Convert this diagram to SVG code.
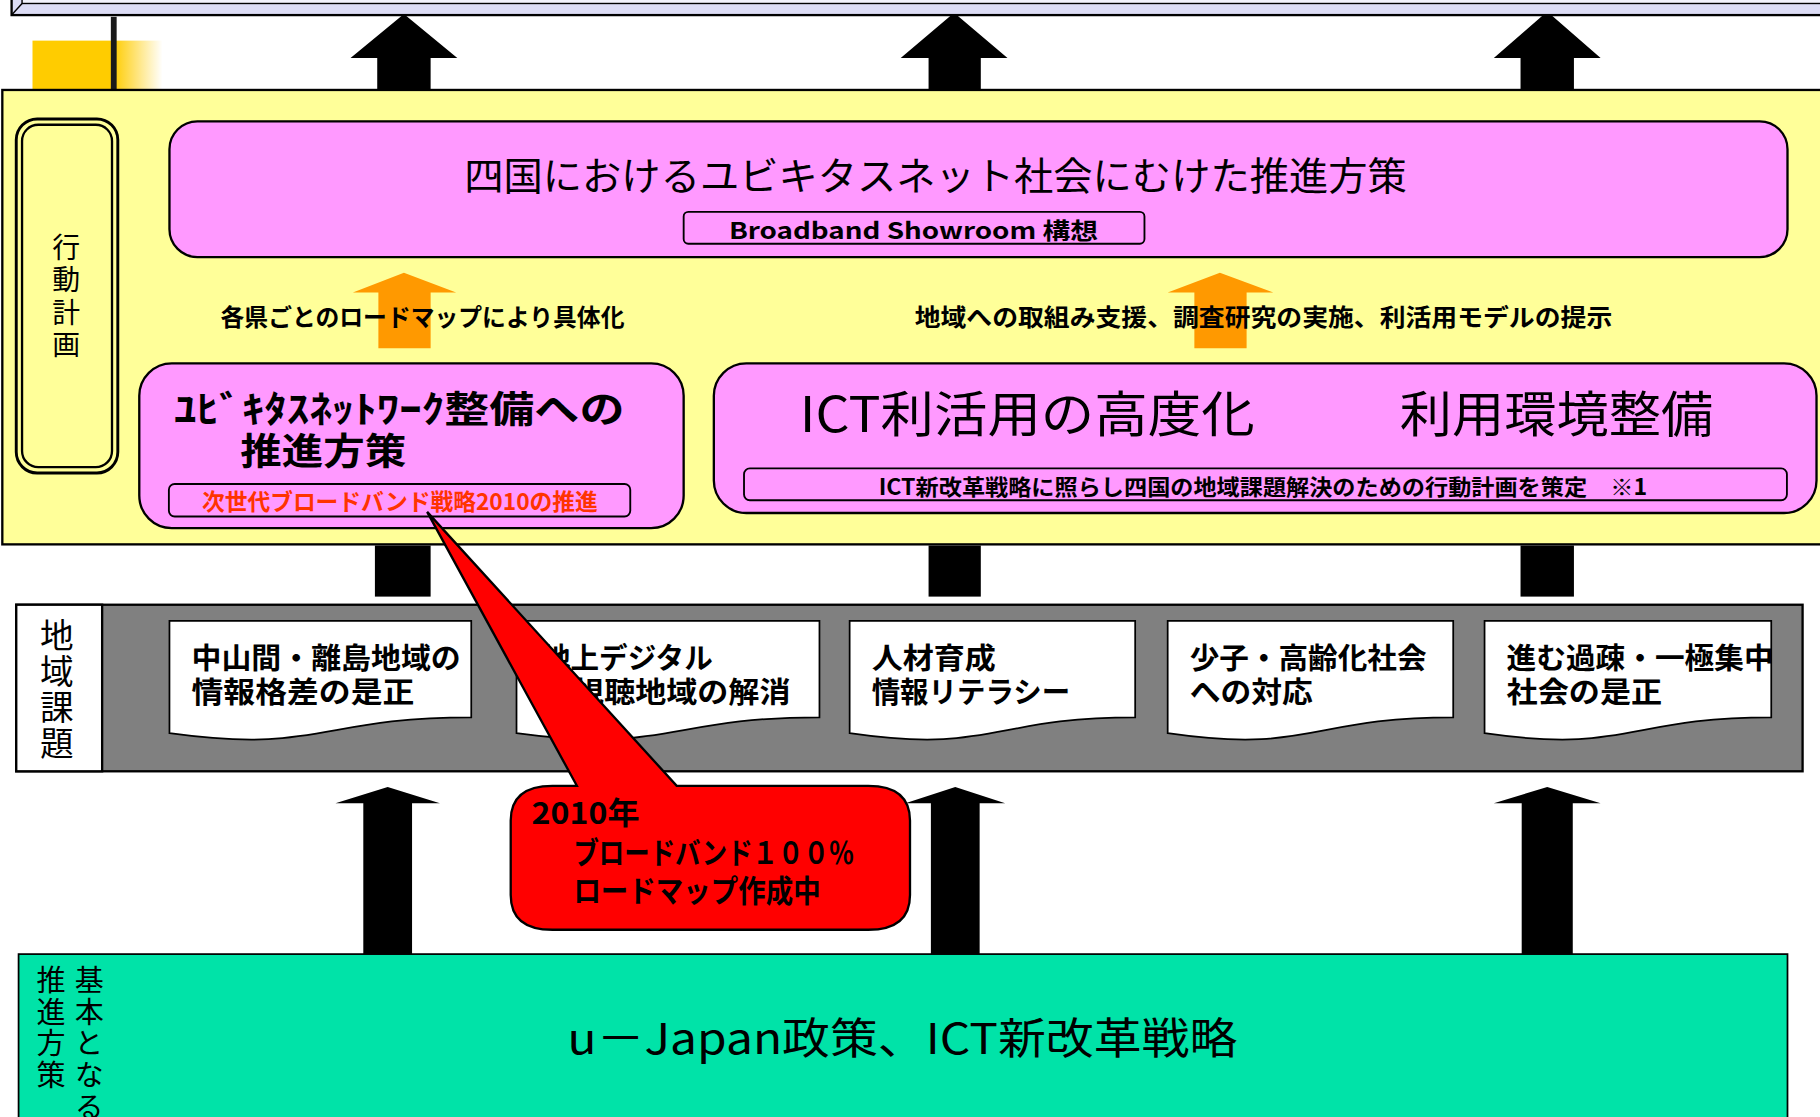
<svg xmlns="http://www.w3.org/2000/svg" width="1820" height="1117" viewBox="0 0 1820 1117">
<defs>
<linearGradient id="goldFade" x1="0" y1="0" x2="1" y2="0">
<stop offset="0" stop-color="#FFCC00"/>
<stop offset="0.62" stop-color="#FFCC00"/>
<stop offset="1" stop-color="#FFCC00" stop-opacity="0"/>
</linearGradient>
<style>
text{font-family:"Noto Sans CJK JP","Noto Sans",sans-serif;fill:#000;}
.b{font-weight:bold;}
.pink{fill:#FF99FF;stroke:#000;stroke-width:2;}
.inner{fill:#FF99FF;stroke:#000;stroke-width:1.6;}
.doc{fill:#fff;stroke:#000;stroke-width:1.5;}
.blk{fill:#000;}
.org{fill:#FF9900;}
.doct{font-size:25px;font-weight:bold;}
.vert{writing-mode:vertical-rl;}
</style>
</defs>
<rect width="1820" height="1117" fill="#fff"/>
<g transform="scale(1.160714)">

<g id="connectors">
<path class="blk" d="M325,80 V50 H302 L348,12 L394,50 H371 V80 Z"/>
<path class="blk" d="M800,80 V50 H776 L822,11 L868,50 H845 V80 Z"/>
<path class="blk" d="M1310,80 V50 H1287 L1333,10 L1379,50 H1356 V80 Z"/>
</g>

<g id="top-banner">
<rect x="10" y="-20" width="1600" height="33" fill="#DCDCF5" stroke="#000" stroke-width="2"/>
<rect x="19" y="-20" width="1600" height="23" fill="#F2F2FB" stroke="#000" stroke-width="1.2"/>
<line x1="10" y1="13" x2="19" y2="3" stroke="#000" stroke-width="1.2"/>
</g>

<g id="corner-mark">
<rect x="28" y="35" width="112" height="43" fill="url(#goldFade)"/>
<rect x="95.5" y="14.5" width="5" height="63" fill="#1a1a1a"/>
</g>

<g id="action-plan-area">
<rect x="2" y="77.5" width="1600" height="391.5" fill="#FFFF99" stroke="#000" stroke-width="2"/>
</g>

<g id="stubs">
<rect class="blk" x="323" y="470" width="48" height="44"/>
<rect class="blk" x="800" y="470" width="45" height="44"/>
<rect class="blk" x="1310" y="470" width="46" height="44"/>
</g>

<g id="regional-issues">
<rect x="14" y="521" width="1539" height="143.5" fill="#808080" stroke="#000" stroke-width="2"/>
<rect x="14" y="521" width="74" height="143.5" fill="#fff" stroke="#000" stroke-width="2"/>
<text class="vert" x="49" y="533" font-size="29" letter-spacing="2">地域課題</text>
</g>

<g id="basic-policy">
<rect x="16" y="822" width="1524" height="200" fill="#00E3A8" stroke="#000" stroke-width="1.5"/>
<text class="vert" x="77" y="831.5" font-size="25" letter-spacing="2.5">基本となる</text>
<text class="vert" x="44" y="831.5" font-size="25" letter-spacing="2.5">推進方策</text>
<text x="489" y="908" font-size="37" textLength="577" lengthAdjust="spacingAndGlyphs">u－Japan政策、ICT新改革戦略</text>
</g>

<g id="connectors-lower">
<path class="blk" d="M313,822 V692 H289 L334,678 L379,692 H355 V822 Z"/>
<path class="blk" d="M802,822 V692 H780 L823,678 L866,692 H844 V822 Z"/>
<path class="blk" d="M1311,822 V692 H1287 L1333,678 L1379,692 H1355 V822 Z"/>
<path class="org" d="M326,300 V252 H304 L348,235 L393,252 H371 V300 Z"/>
<path class="org" d="M1029,300 V252 H1006 L1051,235 L1097,252 H1074 V300 Z"/>
</g>

<g id="label-action">
<rect x="14" y="102.5" width="87.5" height="305" rx="18" fill="#FFFF99" stroke="#000" stroke-width="2.5"/>
<rect x="19" y="107.5" width="77.5" height="295" rx="14" fill="none" stroke="#000" stroke-width="2"/>
<text class="vert" x="57" y="201" font-size="24" letter-spacing="4">行動計画</text>
</g>

<g id="node-shikoku">
<rect class="pink" x="146" y="104.5" width="1394" height="117" rx="24"/>
<text x="400" y="163.5" font-size="33" textLength="812" lengthAdjust="spacingAndGlyphs">四国におけるユビキタスネット社会にむけた推進方策</text>
<rect class="inner" x="589" y="182.5" width="397" height="27.5" rx="4"/>
<text class="b" x="628" y="206" font-size="20" textLength="318" lengthAdjust="spacingAndGlyphs">Broadband  Showroom  構想</text>
</g>

<g id="label-left">
<text class="b" x="190" y="281" font-size="21" textLength="348" lengthAdjust="spacingAndGlyphs">各県ごとのロードマップにより具体化</text>
</g>
<g id="label-right">
<text class="b" x="788" y="281" font-size="21" textLength="601" lengthAdjust="spacingAndGlyphs">地域への取組み支援、調査研究の実施、利活用モデルの提示</text>
</g>

<g id="node-ubiquitous">
<rect class="pink" x="120" y="313" width="469" height="142" rx="28"/>
<text class="b" font-size="32"><tspan x="150" y="364.5" textLength="388" lengthAdjust="spacingAndGlyphs">ﾕﾋﾞｷﾀｽﾈｯﾄﾜｰｸ整備への</tspan><tspan x="207" y="400.5" textLength="143" lengthAdjust="spacingAndGlyphs">推進方策</tspan></text>
<rect class="inner" x="145.5" y="417" width="397.5" height="28" rx="5"/>
<text class="b" x="174" y="439.5" font-size="20" textLength="341" lengthAdjust="spacingAndGlyphs" style="fill:#FF3300">次世代ブロードバンド戦略2010の推進</text>
</g>

<g id="node-ict">
<rect class="pink" x="615" y="313" width="950" height="129" rx="28"/>
<text x="689" y="372" font-size="42" textLength="392" lengthAdjust="spacingAndGlyphs">ICT利活用の高度化</text>
<text x="1206" y="372" font-size="42" textLength="270" lengthAdjust="spacingAndGlyphs">利用環境整備</text>
<rect class="inner" x="641" y="403.5" width="898.5" height="27.5" rx="5"/>
<text class="b" x="757" y="426.5" font-size="19" textLength="662" lengthAdjust="spacingAndGlyphs">ICT新改革戦略に照らし四国の地域課題解決のための行動計画を策定　※1</text>
</g>

<g id="doc-1">
<path class="doc" d="M146,535 H406 V618 C276,618 276,649.6 146,631.7 Z"/>
<text class="doct"><tspan x="165" y="576" textLength="232" lengthAdjust="spacingAndGlyphs">中山間・離島地域の</tspan><tspan x="165" y="606" textLength="192" lengthAdjust="spacingAndGlyphs">情報格差の是正</tspan></text>
</g>
<g id="doc-2">
<path class="doc" d="M445,535 H706 V618 C575.5,618 575.5,649.6 445,631.7 Z"/>
<text class="doct"><tspan x="467" y="576" textLength="147" lengthAdjust="spacingAndGlyphs">地上デジタル</tspan><tspan x="467" y="606" textLength="214" lengthAdjust="spacingAndGlyphs">難視聴地域の解消</tspan></text>
</g>
<g id="doc-3">
<path class="doc" d="M732,535 H978 V618 C855,618 855,649.6 732,631.7 Z"/>
<text class="doct"><tspan x="751" y="576" textLength="107" lengthAdjust="spacingAndGlyphs">人材育成</tspan><tspan x="751" y="606" textLength="171" lengthAdjust="spacingAndGlyphs">情報リテラシー</tspan></text>
</g>
<g id="doc-4">
<path class="doc" d="M1006,535 H1252 V618 C1129,618 1129,649.6 1006,631.7 Z"/>
<text class="doct"><tspan x="1025" y="576" textLength="204" lengthAdjust="spacingAndGlyphs">少子・高齢化社会</tspan><tspan x="1025" y="606" textLength="106" lengthAdjust="spacingAndGlyphs">への対応</tspan></text>
</g>
<g id="doc-5">
<path class="doc" d="M1279,535 H1526 V618 C1402.5,618 1402.5,649.6 1279,631.7 Z"/>
<text class="doct"><tspan x="1298" y="576" textLength="230" lengthAdjust="spacingAndGlyphs">進む過疎・一極集中</tspan><tspan x="1298" y="606" textLength="134" lengthAdjust="spacingAndGlyphs">社会の是正</tspan></text>
</g>

<g id="callout">
<path d="M476,677 H497 L368,441 L583,677 H748 Q784,677 784,707 V771 Q784,801 748,801 H476 Q440,801 440,771 V707 Q440,677 476,677 Z" fill="#FF0000" stroke="#000" stroke-width="2"/>
<text class="b" font-size="26"><tspan x="458" y="710" textLength="93" lengthAdjust="spacingAndGlyphs">2010年</tspan><tspan x="494" y="744" textLength="242" lengthAdjust="spacingAndGlyphs">ブロードバンド１００％</tspan><tspan x="494" y="777" textLength="213" lengthAdjust="spacingAndGlyphs">ロードマップ作成中</tspan></text>
</g>

</g>
</svg>
